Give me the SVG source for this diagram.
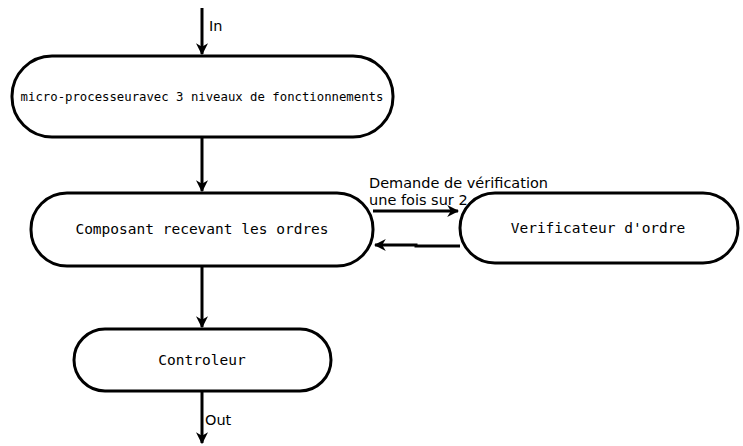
<svg xmlns="http://www.w3.org/2000/svg" width="743" height="446" viewBox="0 0 743 446">
<style>
.node{fill:#fff;stroke:#000;stroke-width:3}
.nt{font-family:"DejaVu Sans Mono","Liberation Mono",monospace;font-size:14.5px;fill:#000;text-anchor:middle}
.lbl{font-family:"DejaVu Sans","Liberation Sans",sans-serif;font-size:14.5px;fill:#000}
.edge{fill:none;stroke:#000;stroke-width:3}
</style>
<defs>
<marker id="ah" viewBox="0 0 10 10" refX="9" refY="5" markerWidth="4" markerHeight="4" orient="auto" markerUnits="strokeWidth">
<path d="M0,0 L10,5 L0,10 L3,5 Z" fill="#000"/>
</marker>
</defs>
<rect width="743" height="446" fill="#fff"/>
<g id="connectors">
<path class="edge" d="M202,8 V54" marker-end="url(#ah)"/>
<path class="edge" d="M202,137 V191" marker-end="url(#ah)"/>
<path class="edge" d="M202,266 V327" marker-end="url(#ah)"/>
<path class="edge" d="M202,391 V443" marker-end="url(#ah)"/>
<path class="edge" d="M373,211 H458" marker-end="url(#ah)"/>
<path class="edge" d="M460,246 H416 V245 H375" marker-end="url(#ah)"/>
<text class="lbl" x="209" y="31">In</text>
<text class="lbl" x="205" y="425">Out</text>
<text class="lbl" x="369" y="188">Demande de vérification</text>
<text class="lbl" x="369" y="205">une fois sur 2</text>
</g>
<g id="n1">
<rect class="node" x="12" y="56" width="381" height="81" rx="40" ry="40"/>
<text class="nt" x="202" y="101" style="font-size:12.3px">micro-processeuravec 3 niveaux de fonctionnements</text>
</g>
<g id="n2">
<rect class="node" x="31" y="193" width="342" height="73" rx="36" ry="36"/>
<text class="nt" x="202" y="234">Composant recevant les ordres</text>
</g>
<g id="n3">
<rect class="node" x="460" y="193" width="278" height="70" rx="35" ry="35"/>
<text class="nt" x="598" y="233">Verificateur d'ordre</text>
</g>
<g id="n4">
<rect class="node" x="74" y="329" width="257" height="62" rx="31" ry="31"/>
<text class="nt" x="202" y="365">Controleur</text>
</g>
</svg>
